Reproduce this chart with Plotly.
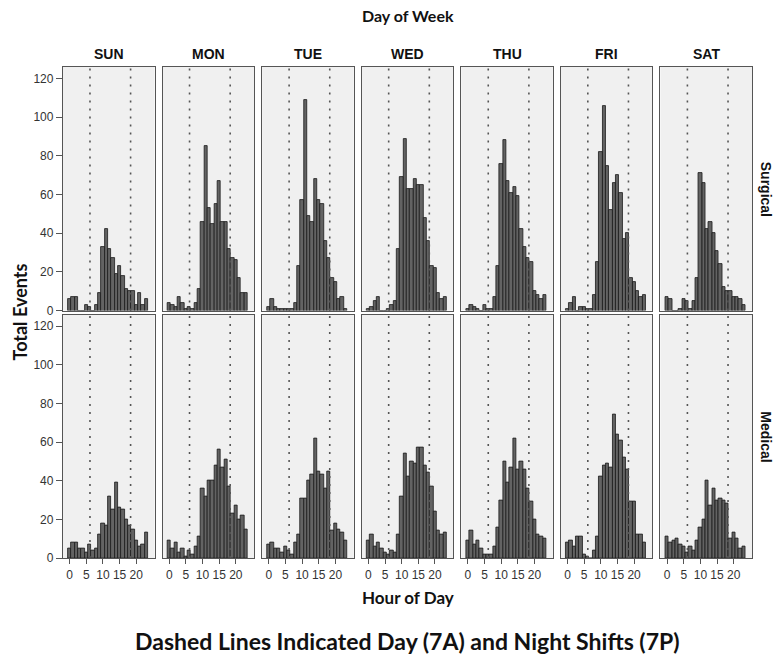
import plotly.graph_objects as go
from plotly.subplots import make_subplots

days = ["SUN", "MON", "TUE", "WED", "THU", "FRI", "SAT"]
hours = list(range(24))

# Surgical events per hour (0..23)
surg_sun = [6, 7, 7, 0, 0, 3, 2, 0, 3, 9, 33, 42, 32, 27, 19, 23, 18, 11, 10, 10, 3, 9, 3, 6]
surg_mon = [4, 3, 2, 7, 4, 1, 2, 1, 4, 11, 46, 85, 53, 45, 55, 67, 46, 46, 32, 27, 26, 17, 9, 9]
surg_tue = [2, 6, 2, 1, 1, 1, 1, 1, 4, 23, 57, 109, 49, 46, 68, 57, 55, 36, 27, 17, 15, 6, 7, 1]
surg_wed = [1, 2, 5, 7, 0, 0, 1, 3, 5, 32, 69, 89, 63, 63, 68, 65, 65, 48, 36, 23, 22, 9, 6, 7]
surg_thu = [1, 3, 2, 1, 0, 3, 1, 1, 7, 23, 76, 88, 67, 61, 64, 59, 42, 33, 27, 25, 10, 8, 6, 8]
surg_fri = [1, 4, 7, 0, 2, 2, 1, 1, 8, 25, 82, 106, 75, 52, 66, 70, 61, 37, 40, 17, 15, 10, 7, 8]
surg_sat = [7, 6, 0, 0, 1, 6, 5, 1, 5, 17, 71, 66, 42, 46, 40, 31, 24, 12, 10, 10, 7, 7, 6, 3]

# Medical events per hour (0..23)
med_sun = [5, 8, 8, 5, 5, 3, 7, 4, 5, 12, 18, 17, 32, 25, 39, 26, 25, 20, 17, 15, 9, 6, 7, 13]
med_mon = [9, 5, 8, 3, 5, 1, 4, 2, 6, 11, 36, 32, 40, 40, 48, 56, 47, 51, 37, 23, 27, 20, 22, 15]
med_tue = [7, 8, 5, 5, 3, 6, 4, 2, 8, 12, 31, 31, 40, 43, 62, 45, 43, 36, 45, 14, 18, 15, 13, 9]
med_wed = [9, 12, 6, 8, 5, 3, 2, 4, 3, 12, 32, 54, 42, 50, 49, 57, 57, 48, 44, 37, 24, 14, 12, 13]
med_thu = [9, 14, 7, 9, 5, 2, 2, 2, 6, 16, 30, 50, 39, 47, 62, 46, 50, 46, 36, 29, 20, 12, 11, 10]
med_fri = [8, 9, 6, 11, 11, 2, 1, 0, 4, 11, 42, 48, 49, 47, 74, 64, 61, 52, 46, 29, 29, 12, 12, 8]
med_sat = [11, 8, 9, 10, 7, 6, 3, 6, 4, 9, 16, 20, 40, 27, 36, 30, 31, 30, 28, 10, 13, 10, 5, 6]

surgical = [surg_sun, surg_mon, surg_tue, surg_wed, surg_thu, surg_fri, surg_sat]
medical = [med_sun, med_mon, med_tue, med_wed, med_thu, med_fri, med_sat]
row_labels = ["Surgical", "Medical"]

shift_lines = [6.1, 18.3]  # 7A and 7P shift changes
x_ticks = [0, 5, 10, 15, 20]
y_ticks = [0, 20, 40, 60, 80, 100, 120]

fig = make_subplots(rows=2, cols=7, shared_xaxes=True, shared_yaxes=True,
                    horizontal_spacing=8 / 689, vertical_spacing=4 / 491)

for r, series in enumerate([surgical, medical], start=1):
    for c, vals in enumerate(series, start=1):
        idx = (r - 1) * 7 + c
        sfx = "" if idx == 1 else str(idx)
        fig.add_trace(go.Bar(x=hours, y=vals, width=1,
                             marker=dict(color="#636363",
                                         line=dict(color="#1a1a1a", width=0.8)),
                             hoverinfo="x+y"), row=r, col=c)
        for xl in shift_lines:
            fig.add_shape(type="line", x0=xl, x1=xl, y0=0, y1=1,
                          xref=f"x{sfx}", yref=f"y{sfx} domain",
                          line=dict(color="#555555", width=1.6, dash="2px,6px"),
                          layer="above")

fig.update_xaxes(range=[-2, 25.5], showgrid=False, zeroline=False,
                 showline=True, linecolor="#555555", linewidth=1.3, mirror=True,
                 tickvals=x_ticks, ticks="", showticklabels=False,
                 tickfont=dict(family="Liberation Sans, Arial", size=12, color="#333333"))
fig.update_xaxes(ticks="outside", ticklen=5, tickcolor="#555555", showticklabels=True, row=2)
fig.update_yaxes(range=[0, 126], showgrid=False, zeroline=False,
                 showline=True, linecolor="#555555", linewidth=1.3, mirror=True,
                 tickvals=y_ticks, ticks="", showticklabels=False,
                 tickfont=dict(family="Liberation Sans, Arial", size=12, color="#333333"))
fig.update_yaxes(ticks="outside", ticklen=6, tickcolor="#555555", showticklabels=True, col=1)

annotations = []
bold_sans = "Lato, Open Sans, sans-serif"
for i, d in enumerate(days):
    dom = fig.layout[f"xaxis{'' if i == 0 else i + 1}"].domain
    annotations.append(dict(text=f"<b>{d}</b>", x=(dom[0] + dom[1]) / 2, y=1,
                            xref="paper", yref="paper", xanchor="center",
                            yanchor="bottom", yshift=3, showarrow=False,
                            font=dict(family="Liberation Sans, Arial", size=14, color="#111111")))
for r, lab in enumerate(row_labels):
    dom = fig.layout[f"yaxis{'' if r == 0 else 8}"].domain
    annotations.append(dict(text=f"<b>{lab}</b>", x=1, y=(dom[0] + dom[1]) / 2,
                            xref="paper", yref="paper", xanchor="center", yanchor="middle",
                            xshift=14, textangle=90, showarrow=False,
                            font=dict(family="Liberation Sans, Arial", size=14, color="#111111")))
annotations += [
    dict(text="<b>Day of Week</b>", x=0.5, y=1, xref="paper", yref="paper",
         xanchor="center", yanchor="middle", yshift=52, showarrow=False,
         font=dict(family=bold_sans, size=16, color="#111111")),
    dict(text="<b>Total Events</b>", x=0, y=0.5, xref="paper", yref="paper",
         xanchor="center", yanchor="middle", xshift=-44, textangle=-90, showarrow=False,
         font=dict(family=bold_sans, size=18, color="#111111")),
    dict(text="<b>Hour of Day</b>", x=0.5, y=0, xref="paper", yref="paper",
         xanchor="center", yanchor="middle", yshift=-39, showarrow=False,
         font=dict(family=bold_sans, size=17, color="#111111")),
    dict(text="<b>Dashed Lines Indicated Day (7A) and Night Shifts (7P)</b>", x=0.5, y=0,
         xref="paper", yref="paper", xanchor="center", yanchor="middle", yshift=-83,
         showarrow=False, font=dict(family=bold_sans, size=23, color="#111111")),
]

fig.update_layout(width=775, height=658, margin=dict(l=63, r=23, t=67, b=100),
                  plot_bgcolor="#f0f0f0", paper_bgcolor="white", showlegend=False,
                  bargap=0, annotations=annotations)

fig.write_html("out.html")
